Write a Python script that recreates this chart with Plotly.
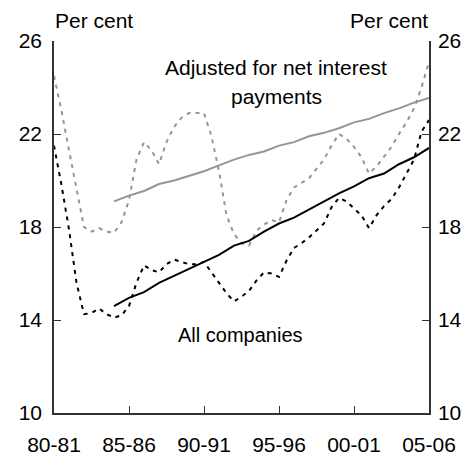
import plotly.graph_objects as go

# half-yearly periods for the actual series, annual for the trends
periods = [1980 + 0.5 * i for i in range(51)]
trend_years = list(range(1984, 2006))

adjusted_actual = [24.5, 23.0, 21.3, 19.6, 18.0, 17.8, 17.95, 17.8, 17.75, 18.2,
                   19.15, 20.9, 21.65, 21.3, 20.7, 21.65, 22.3, 22.7, 22.9, 22.9,
                   22.9, 21.9, 20.4, 18.5, 17.7, 17.3, 17.2, 17.85, 18.1, 18.3,
                   18.2, 19.15, 19.7, 19.9, 20.1, 20.5, 20.9, 21.5, 22.0, 21.8,
                   21.45, 21.0, 20.3, 20.6, 21.05, 21.45, 22.0, 22.5, 23.1, 24.0,
                   25.1]
all_actual = [21.5, 19.8, 17.9, 15.6, 14.25, 14.3, 14.5, 14.25, 14.1, 14.2,
              14.6, 15.6, 16.35, 16.15, 16.05, 16.4, 16.6, 16.5, 16.4, 16.4,
              16.5, 16.05, 15.6, 15.15, 14.8, 15.0, 15.25, 15.7, 16.05, 16.0,
              15.85, 16.55, 17.1, 17.3, 17.55, 17.85, 18.15, 18.85, 19.25, 19.1,
              18.8, 18.5, 17.95, 18.5, 18.9, 19.2, 19.7, 20.3, 20.9, 22.1,
              22.6]
adjusted_trend = [19.1, 19.35, 19.55, 19.85, 20.0, 20.2, 20.4, 20.65, 20.9, 21.1,
                  21.25, 21.5, 21.65, 21.9, 22.05, 22.25, 22.5, 22.65, 22.9, 23.1,
                  23.35, 23.55]
all_trend = [14.6, 14.95, 15.2, 15.6, 15.9, 16.2, 16.5, 16.8, 17.2, 17.4,
             17.8, 18.15, 18.4, 18.75, 19.1, 19.45, 19.75, 20.1, 20.3, 20.7,
             21.0, 21.4]

tick_years = [1980, 1985, 1990, 1995, 2000, 2005]
tick_labels = ['80-81', '85-86', '90-91', '95-96', '00-01', '05-06']

grey = '#959595'
font = dict(family='Liberation Sans, Arial', size=21, color='black')

fig = go.Figure()
fig.add_trace(go.Scatter(x=periods, y=adjusted_actual, mode='lines',
                         line=dict(color=grey, width=2, dash='4px,5px')))
fig.add_trace(go.Scatter(x=periods, y=all_actual, mode='lines',
                         line=dict(color='black', width=2, dash='4px,5px')))
fig.add_trace(go.Scatter(x=trend_years, y=adjusted_trend, mode='lines',
                         line=dict(color=grey, width=2)))
fig.add_trace(go.Scatter(x=trend_years, y=all_trend, mode='lines', yaxis='y2',
                         line=dict(color='black', width=2)))

axis_common = dict(range=[10, 26], tickvals=[10, 14, 18, 22, 26],
                   ticks='inside', ticklen=7, tickcolor='#333',
                   showline=True, linecolor='#333', linewidth=1.5,
                   showgrid=False, zeroline=False, tickfont=font,
                   automargin=False)

# page body adds an 8px margin, so the figure is a little smaller than the window
fig.update_layout(
    width=463, height=449,
    margin=dict(l=46, r=42, t=33, b=44),
    plot_bgcolor='white', paper_bgcolor='white',
    showlegend=False,
    font=font,
    xaxis=dict(range=[1980, 2005], tickvals=tick_years, ticktext=tick_labels,
               ticks='inside', ticklen=7, tickcolor='#333',
               showline=True, linecolor='#333', linewidth=1.5,
               showgrid=False, zeroline=False, tickfont=font,
               ticklabelstandoff=12, automargin=False),
    yaxis=dict(side='left', ticklabelstandoff=6, **axis_common),
    yaxis2=dict(side='right', overlaying='y', matches='y',
                ticklabelstandoff=3, **axis_common),
    annotations=[
        dict(text='Per cent', xref='paper', yref='paper', x=0, y=1.0887,
             xanchor='left', yanchor='top', borderpad=0, showarrow=False,
             font=font),
        dict(text='Per cent', xref='paper', yref='paper', x=1, y=1.0887,
             xanchor='right', yanchor='top', borderpad=0, showarrow=False,
             font=font),
        dict(text='Adjusted for net interest', x=1994.8, y=24.86,
             showarrow=False, font=font),
        dict(text='payments', x=1994.8, y=23.6, showarrow=False, font=font),
        dict(text='All companies', x=1992.4, y=13.35, showarrow=False,
             font=dict(family='Liberation Sans, Arial', size=20, color='black')),
    ],
)

fig.write_html('out.html')
